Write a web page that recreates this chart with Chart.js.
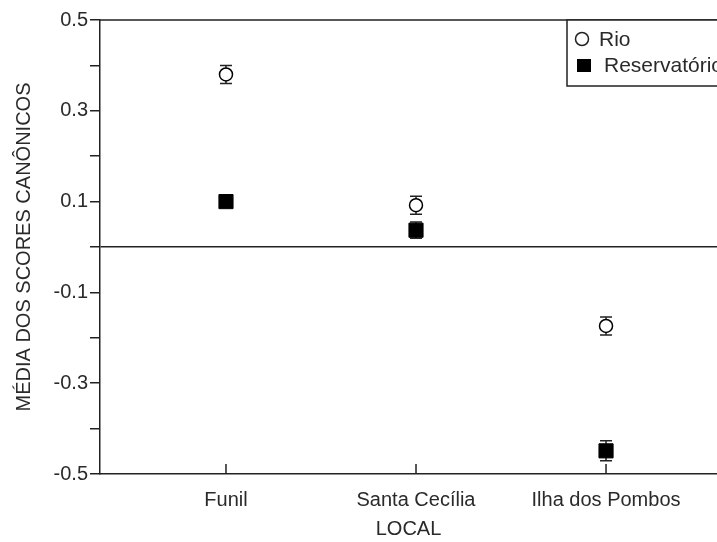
<!DOCTYPE html>
<html>
<head>
<meta charset="utf-8">
<script src="https://cdn.jsdelivr.net/npm/chart.js@4.4.0/dist/chart.umd.min.js"></script>
<style>
html,body{margin:0;padding:0;background:#fff;}
#wrap{width:717px;height:542px;position:relative;}
</style>
</head>
<body>
<div id="wrap"><canvas id="c" width="717" height="542"></canvas></div>
<script>
const categories = ["Funil", "Santa Cecília", "Ilha dos Pombos"];
const rioMeans = [0.38, 0.092, -0.174];
const rioErr = [0.02, 0.02, 0.02];
const resMeans = [0.10, 0.037, -0.449];
const resErr = [0.012, 0.018, 0.022];
const yTickValues = [0.5, 0.3, 0.1, -0.1, -0.3, -0.5];
const seriesNames = ["Rio", "Reservatório"];

const FONT = "'Liberation Sans', Arial, sans-serif";
const INK = '#222';
const TXT = '#2a2a2a';

function pts(means) { return means.map((v, i) => ({ x: i + 1, y: v })); }

const errorBars = {
  id: 'errorBars',
  beforeDatasetsDraw(chart) {
    const ctx = chart.ctx;
    const xs = chart.scales.x, ys = chart.scales.y;
    const sets = [[rioMeans, rioErr], [resMeans, resErr]];
    ctx.save();
    ctx.strokeStyle = INK;
    ctx.lineWidth = 1.5;
    sets.forEach(([m, e]) => {
      m.forEach((v, i) => {
        const x = xs.getPixelForValue(i + 1);
        const y1 = ys.getPixelForValue(v + e[i]);
        const y2 = ys.getPixelForValue(v - e[i]);
        ctx.beginPath();
        ctx.moveTo(x, y1); ctx.lineTo(x, y2);
        ctx.moveTo(x - 6, y1); ctx.lineTo(x + 6, y1);
        ctx.moveTo(x - 6, y2); ctx.lineTo(x + 6, y2);
        ctx.stroke();
      });
    });
    ctx.restore();
  }
};

const frame = {
  id: 'frame',
  afterDraw(chart) {
    const ctx = chart.ctx, a = chart.chartArea;
    const xs = chart.scales.x;
    ctx.save();
    ctx.strokeStyle = INK;
    ctx.lineWidth = 1.5;
    ctx.beginPath();
    ctx.moveTo(a.left, a.top); ctx.lineTo(a.right, a.top);
    // inward x ticks
    categories.forEach((c, i) => {
      const x = xs.getPixelForValue(i + 1);
      ctx.moveTo(x, a.bottom); ctx.lineTo(x, a.bottom - 10);
    });
    ctx.stroke();
    // legend box
    const lx = 567, ly = a.top, lw = 200, lh = 66;
    ctx.fillStyle = '#fff';
    ctx.fillRect(lx, ly, lw, lh);
    ctx.lineWidth = 1.5;
    ctx.strokeRect(lx, ly, lw, lh);
    // markers
    ctx.beginPath();
    ctx.arc(582, 39, 6.5, 0, Math.PI * 2);
    ctx.fillStyle = '#fff';
    ctx.fill();
    ctx.lineWidth = 1.5;
    ctx.stroke();
    ctx.fillStyle = '#000';
    ctx.fillRect(577, 59, 14, 13);
    ctx.fillStyle = TXT;
    ctx.font = '21px ' + FONT;
    ctx.textBaseline = 'middle';
    ctx.fillText(seriesNames[0], 599, 40);
    ctx.fillText(seriesNames[1], 604, 66);
    ctx.restore();
  }
};

new Chart(document.getElementById('c'), {
  type: 'scatter',
  data: {
    datasets: [
      {
        label: seriesNames[0],
        data: pts(rioMeans),
        pointStyle: 'circle',
        pointRadius: 6.5,
        pointHoverRadius: 6.5,
        backgroundColor: '#fff',
        borderColor: '#000',
        pointBorderWidth: 1.5
      },
      {
        label: seriesNames[1],
        data: pts(resMeans),
        pointStyle: 'rect',
        pointRadius: 10,
        pointHoverRadius: 10,
        backgroundColor: '#000',
        borderColor: '#000',
        pointBorderWidth: 1
      }
    ]
  },
  options: {
    responsive: false,
    animation: false,
    layout: { autoPadding: false, padding: { top: 20, right: 0, left: 0, bottom: 0 } },
    plugins: { legend: { display: false }, tooltip: { enabled: false } },
    scales: {
      x: {
        type: 'linear',
        min: 0.337,
        max: 3.584,
        afterBuildTicks(s) { s.ticks = categories.map((c, i) => ({ value: i + 1 })); },
        afterFit(s) { s.height = 68; s.paddingLeft = 0; s.paddingRight = 0; },
        ticks: {
          callback: (v) => categories[Math.round(v) - 1] || '',
          color: TXT,
          font: { family: FONT, size: 20 },
          padding: 14,
          maxRotation: 0
        },
        grid: { drawOnChartArea: false, drawTicks: false },
        border: { color: INK, width: 1.5 },
        title: {
          display: true,
          text: 'LOCAL',
          color: TXT,
          font: { family: FONT, size: 20 },
          padding: { top: 0, bottom: 1 }
        }
      },
      y: {
        min: -0.5,
        max: 0.5,
        afterBuildTicks(s) {
          const t = [];
          for (let k = -5; k <= 5; k++) t.push({ value: k / 10 });
          s.ticks = t;
        },
        afterFit(s) { s.width = 100; s.paddingTop = 0; s.paddingBottom = 0; },
        ticks: {
          callback: (v) => {
            const hit = yTickValues.find(t => Math.abs(t - v) < 1e-9);
            return hit === undefined ? '' : hit.toFixed(1);
          },
          color: TXT,
          font: { family: FONT, size: 20 },
          padding: 2
        },
        grid: {
          drawOnChartArea: true,
          color: (c) => (c.tick && Math.abs(c.tick.value) < 1e-9) ? INK : 'rgba(0,0,0,0)',
          lineWidth: 1.5,
          tickLength: 10,
          tickColor: INK,
          tickWidth: 1.5
        },
        border: { color: INK, width: 1.5 },
        title: {
          display: true,
          text: 'MÉDIA DOS SCORES CANÔNICOS',
          color: TXT,
          font: { family: FONT, size: 20 },
          padding: { top: 12, bottom: 0 }
        }
      }
    }
  },
  plugins: [errorBars, frame]
});
</script>
</body>
</html>
